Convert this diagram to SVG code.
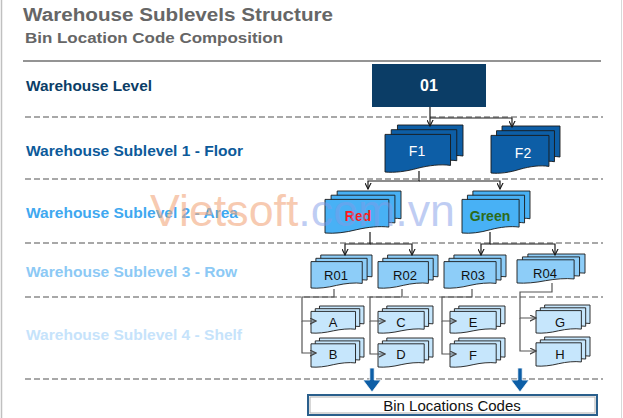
<svg xmlns="http://www.w3.org/2000/svg" xmlns:xlink="http://www.w3.org/1999/xlink" width="623" height="418" viewBox="0 0 623 418">
<style>
.t{font-family:"Liberation Sans",Arial,sans-serif}
.b{font-weight:bold}
.lvl{font-family:"Liberation Sans",Arial,sans-serif;font-weight:bold;font-size:15px}
.dash{stroke:#a8a8a8;stroke-width:2;stroke-dasharray:6 3;fill:none}
.cn{fill:none;stroke:#1a1a1a;stroke-width:1.2}
.cg{fill:none;stroke:#555;stroke-width:1.2}
.lay{stroke:#1a1a1a;stroke-width:0.9}
.nt{font-family:"Liberation Sans",Arial,sans-serif;text-anchor:middle}
</style>
<defs>
<symbol id="stk" viewBox="0 0 100 100" preserveAspectRatio="none" overflow="visible">
<path class="lay" vector-effect="non-scaling-stroke" d="M16,0H100V66C88,63 72,66 58,72C43,79 28,82 16,80Z"/>
<path class="lay" vector-effect="non-scaling-stroke" d="M8,10H92V76C80,73 64,76 50,82C35,89 20,92 8,90Z"/>
<path class="lay" vector-effect="non-scaling-stroke" d="M0,20H84V86C72,83 56,86 42,92C27,99 12,102 0,100Z"/>
</symbol>
<marker id="ah" viewBox="0 0 10 10" refX="9" refY="5" markerWidth="7" markerHeight="7" markerUnits="userSpaceOnUse" orient="auto">
<path d="M0,0.5 L9,5 L0,9.5" fill="none" stroke="#1a1a1a" stroke-width="1.6"/>
</marker>
<marker id="ag" viewBox="0 0 10 10" refX="9" refY="5" markerWidth="7" markerHeight="7" markerUnits="userSpaceOnUse" orient="auto">
<path d="M0,0.5 L9,5 L0,9.5" fill="none" stroke="#444" stroke-width="1.6"/>
</marker>
<path id="barrow" d="M-2.2,0 H2.2 V12 H9 L0,24 L-9,12 H-2.2 Z" fill="#0d5ea6" stroke="#ffffff" stroke-width="0.8"/>
</defs>

<rect width="623" height="418" fill="#ffffff"/>
<line x1="1.5" y1="0" x2="1.5" y2="418" stroke="#c0c0c0" stroke-width="1.5"/>
<line x1="621.5" y1="0" x2="621.5" y2="418" stroke="#d8d8d8" stroke-width="1"/>

<g id="titles">
<text class="t b" x="23" y="21" font-size="18" fill="#666666" textLength="310" lengthAdjust="spacingAndGlyphs">Warehouse Sublevels Structure</text>
<text class="t b" x="25" y="43" font-size="15" fill="#666666" textLength="258" lengthAdjust="spacingAndGlyphs">Bin Location Code Composition</text>
</g>
<line x1="23" y1="61" x2="601" y2="61" stroke="#707070" stroke-width="1.5"/>

<g id="separators">
<line class="dash" x1="25" y1="117" x2="603" y2="117"/>
<line class="dash" x1="25" y1="179" x2="603" y2="179"/>
<line class="dash" x1="25" y1="243" x2="603" y2="243"/>
<line class="dash" x1="25" y1="297" x2="603" y2="297"/>
<line class="dash" x1="25" y1="379" x2="603" y2="379"/>
</g>

<g id="levels">
<text class="lvl" x="26" y="91" fill="#0b3d66" textLength="126" lengthAdjust="spacingAndGlyphs">Warehouse Level</text>
<text class="lvl" x="26" y="156" fill="#0c5a9a" textLength="217" lengthAdjust="spacingAndGlyphs">Warehouse Sublevel 1 - Floor</text>
<text class="lvl" x="26" y="218" fill="#40a8f0" textLength="212" lengthAdjust="spacingAndGlyphs">Warehouse Sublevel 2 - Area</text>
<text class="lvl" x="26" y="277" fill="#8cc9f5" textLength="211" lengthAdjust="spacingAndGlyphs">Warehouse Sublevel 3 - Row</text>
<text class="lvl" x="26" y="340" fill="#c6e3fb" textLength="216" lengthAdjust="spacingAndGlyphs">Warehouse Sublevel 4 - Shelf</text>
</g>

<g id="n01">
<rect x="372" y="64" width="114" height="43" fill="#0b3d66"/>
<text class="nt b" x="429" y="91" font-size="16" fill="#ffffff">01</text>
</g>

<g id="nF1"><use xlink:href="#stk" x="385" y="125" width="78" height="47" fill="#0d5ea6"/><text class="nt" x="417" y="156" font-size="14" fill="#ffffff">F1</text></g>
<g id="nF2"><use xlink:href="#stk" x="491" y="126" width="69" height="47" fill="#0d5ea6"/><text class="nt" x="523" y="158" font-size="14" fill="#ffffff">F2</text></g>

<g id="nRed"><use xlink:href="#stk" x="325" y="191" width="76" height="42" fill="#48b1f5"/><text class="nt b" x="358" y="221" font-size="14" fill="#ff1a1a">Red</text></g>
<g id="nGreen"><use xlink:href="#stk" x="462" y="191" width="68" height="42" fill="#48b1f5"/><text class="nt b" x="490" y="221" font-size="14" fill="#2d6b18">Green</text></g>

<g id="nR01"><use xlink:href="#stk" x="311" y="255" width="61" height="33" fill="#8dcdf8"/><text class="nt" x="336" y="280" font-size="13" fill="#111">R01</text></g>
<g id="nR02"><use xlink:href="#stk" x="378" y="255" width="60" height="33" fill="#8dcdf8"/><text class="nt" x="405" y="280" font-size="13" fill="#111">R02</text></g>
<g id="nR03"><use xlink:href="#stk" x="444" y="255" width="62" height="33" fill="#8dcdf8"/><text class="nt" x="473" y="279.5" font-size="13" fill="#111">R03</text></g>
<g id="nR04"><use xlink:href="#stk" x="517" y="254" width="68" height="29" fill="#8dcdf8"/><text class="nt" x="545" y="278" font-size="13" fill="#111">R04</text></g>

<g id="nA"><use xlink:href="#stk" x="311" y="306" width="53" height="27" fill="#c6e6fc"/><text class="nt" x="333" y="327" font-size="13" fill="#111">A</text></g>
<g id="nB"><use xlink:href="#stk" x="311" y="338" width="53" height="29" fill="#c6e6fc"/><text class="nt" x="333" y="359" font-size="13" fill="#111">B</text></g>
<g id="nC"><use xlink:href="#stk" x="378" y="306" width="55" height="27" fill="#c6e6fc"/><text class="nt" x="401" y="327" font-size="13" fill="#111">C</text></g>
<g id="nD"><use xlink:href="#stk" x="378" y="338" width="55" height="29" fill="#c6e6fc"/><text class="nt" x="401" y="359" font-size="13" fill="#111">D</text></g>
<g id="nE"><use xlink:href="#stk" x="450" y="306" width="55" height="27" fill="#c6e6fc"/><text class="nt" x="473" y="327" font-size="13" fill="#111">E</text></g>
<g id="nF"><use xlink:href="#stk" x="450" y="338" width="55" height="29" fill="#c6e6fc"/><text class="nt" x="473" y="360" font-size="13" fill="#111">F</text></g>
<g id="nG"><use xlink:href="#stk" x="536" y="305" width="54" height="28" fill="#c6e6fc"/><text class="nt" x="560" y="327" font-size="13" fill="#111">G</text></g>
<g id="nH"><use xlink:href="#stk" x="536" y="337" width="54" height="29" fill="#c6e6fc"/><text class="nt" x="560" y="359" font-size="13" fill="#111">H</text></g>

<g id="connectors">
<path class="cn" d="M430,107 V126" marker-end="url(#ah)"/>
<path class="cn" d="M430,118 H512 V127" marker-end="url(#ah)"/>
<path class="cn" d="M419,171 V181 H368 V189" marker-end="url(#ah)"/>
<path class="cn" d="M419,181 H500 V189" marker-end="url(#ah)"/>
<path class="cn" d="M370,232 V244 H345 V255" marker-end="url(#ah)"/>
<path class="cn" d="M370,244 H412 V255" marker-end="url(#ah)"/>
<path class="cn" d="M490,232 V244 H481 V255" marker-end="url(#ah)"/>
<path class="cn" d="M490,244 H555 V255" marker-end="url(#ah)"/>
<path class="cg" d="M334,289 V297 H302 V321 H316" marker-end="url(#ag)"/>
<path class="cg" d="M302,321 V353 H316" marker-end="url(#ag)"/>
<path class="cg" d="M402,289 V297 H370 V321 H385" marker-end="url(#ag)"/>
<path class="cg" d="M370,321 V354 H385" marker-end="url(#ag)"/>
<path class="cg" d="M472,289 V297 H442 V321 H456" marker-end="url(#ag)"/>
<path class="cg" d="M442,321 V354 H456" marker-end="url(#ag)"/>
<path class="cg" d="M552,283 V292 H520 V318 H536" marker-end="url(#ag)"/>
<path class="cg" d="M520,318 V351 H536" marker-end="url(#ag)"/>
<use xlink:href="#barrow" x="372" y="368"/>
<use xlink:href="#barrow" x="520" y="368"/>
</g>

<g id="bin">
<rect x="308" y="395" width="289" height="20" fill="#ffffff" stroke="#2a5f8c" stroke-width="2"/>
<rect x="310" y="397" width="285" height="16" fill="none" stroke="#b0b0b0" stroke-width="1"/>
<text class="nt" x="452" y="411" font-size="15" fill="#111">Bin Locations Codes</text>
</g>

<text class="t" x="150" y="226" font-size="44" textLength="305" lengthAdjust="spacingAndGlyphs"><tspan fill="#f2a77c" fill-opacity="0.6">Vietsoft</tspan><tspan fill="#7f9ce8" fill-opacity="0.5">.com.vn</tspan></text>
</svg>
